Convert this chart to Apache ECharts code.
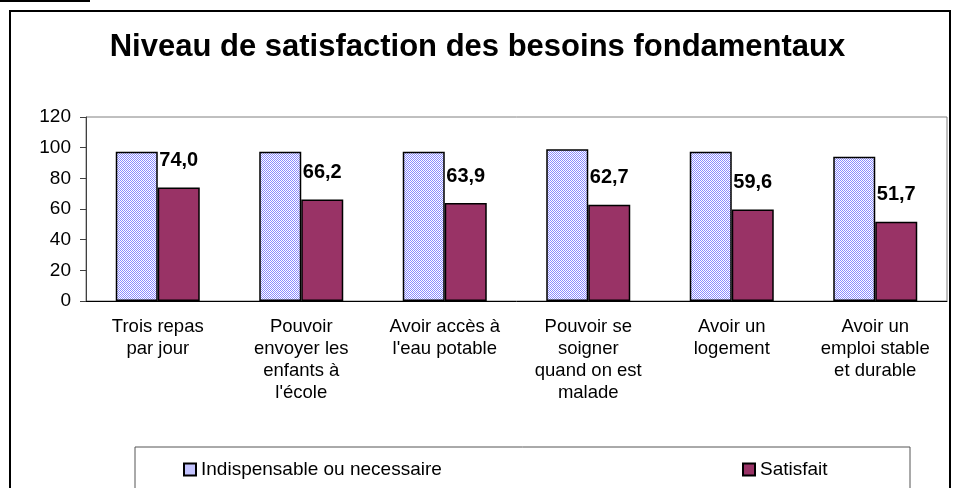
<!DOCTYPE html>
<html>
<head>
<meta charset="utf-8">
<script src="https://cdn.jsdelivr.net/npm/echarts@6/dist/echarts.min.js"></script>
<style>
html, body { margin: 0; padding: 0; background: #fff; }
#chart { width: 955px; height: 488px; }
</style>
</head>
<body>
<div id="chart"></div>
<script>
var categories = [
	'Trois repas\npar jour',
	'Pouvoir\nenvoyer les\nenfants à\nl\'école',
	'Avoir accès à\nl\'eau potable',
	'Pouvoir se\nsoigner\nquand on est\nmalade',
	'Avoir un\nlogement',
	'Avoir un\nemploi stable\net durable'
];
var indispensable = [97.3, 97.4, 97.4, 98.9, 97.4, 94.0];
var satisfait = [74.0, 66.2, 63.9, 62.7, 59.6, 51.7];
var yTicks = [0, 120, 20];  // min, max, interval

// petit motif quadrillé bleu pour la première série
var pat = document.createElement('canvas');
pat.width = 2; pat.height = 2;
var ctx = pat.getContext('2d');
ctx.fillStyle = '#ffffff';
ctx.fillRect(0, 0, 2, 2);
ctx.fillStyle = '#8a8aff';
ctx.fillRect(0, 0, 1, 1);
ctx.fillRect(1, 1, 1, 1);

var myChart = echarts.init(document.getElementById('chart'));
myChart.setOption({
	animation: false,
	backgroundColor: '#fff',
	textStyle: { fontFamily: 'Arial, "Liberation Sans", sans-serif', color: '#000' },
	title: {
		text: 'Niveau de satisfaction des besoins fondamentaux',
		left: 'center',
		top: 27,
		textStyle: { fontSize: 31, fontWeight: 'bold', color: '#000' }
	},
	grid: {
		left: 86,
		right: 8,
		top: 117,
		bottom: 187,
		show: true,
		borderColor: '#808080',
		borderWidth: 1
	},
	legend: [
		{
			data: ['Indispensable ou necessaire'],
			left: 178,
			top: 455,
			itemWidth: 12,
			itemHeight: 12,
			icon: 'rect',
			textStyle: { fontSize: 19, color: '#000' }
		},
		{
			data: ['Satisfait'],
			left: 737,
			top: 455,
			itemWidth: 12,
			itemHeight: 12,
			icon: 'rect',
			textStyle: { fontSize: 19, color: '#000' }
		}
	],
	xAxis: {
		type: 'category',
		data: categories,
		axisLine: { lineStyle: { color: '#000', width: 1 } },
		axisTick: { length: 5, lineStyle: { color: '#000' } },
		axisLabel: { interval: 0, fontSize: 18.5, lineHeight: 22, margin: 15, color: '#000' }
	},
	yAxis: {
		type: 'value',
		min: yTicks[0],
		max: yTicks[1],
		interval: yTicks[2],
		splitLine: { show: false },
		axisLine: { show: true, lineStyle: { color: '#404040' } },
		axisTick: { show: true, length: 6, lineStyle: { color: '#404040' } },
		axisLabel: { fontSize: 19, margin: 15, color: '#000' }
	},
	series: [
		{
			name: 'Indispensable ou necessaire',
			type: 'bar',
			barWidth: 42,
			barGap: 0,
			data: indispensable,
			itemStyle: {
				color: { image: pat, repeat: 'repeat' },
				borderColor: '#000',
				borderWidth: 1.5
			}
		},
		{
			name: 'Satisfait',
			type: 'bar',
			barWidth: 42,
			barGap: 0,
			data: satisfait,
			itemStyle: { color: '#993366', borderColor: '#000', borderWidth: 1.5 },
			label: {
				show: true,
				position: 'top',
				distance: 17,
				fontSize: 20,
				fontWeight: 'bold',
				color: '#000',
				formatter: function (p) { return p.value.toFixed(1).replace('.', ','); }
			}
		}
	],
	graphic: [
		{
			type: 'rect',
			shape: { x: 10, y: 11, width: 940, height: 500 },
			style: { fill: 'none', stroke: '#000', lineWidth: 2 },
			silent: true
		},
		{
			type: 'line',
			shape: { x1: 0, y1: 1, x2: 90, y2: 1 },
			style: { stroke: '#000', lineWidth: 2 },
			silent: true
		},
		{
			type: 'rect',
			shape: { x: 135, y: 447, width: 775, height: 60 },
			style: { fill: 'none', stroke: '#555', lineWidth: 1 },
			silent: true
		}
	]
});
</script>
</body>
</html>
